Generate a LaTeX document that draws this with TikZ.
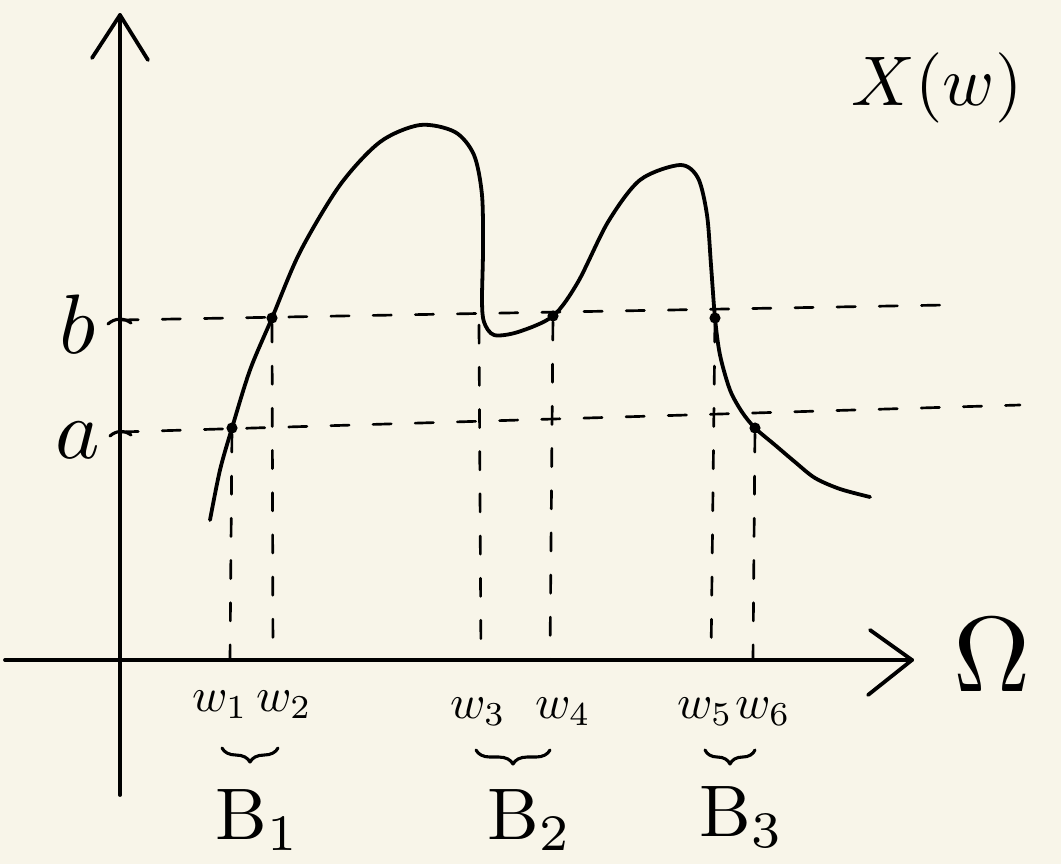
\documentclass[tikz,border=0pt]{standalone}
\usetikzlibrary{decorations.pathreplacing}
\definecolor{paper}{RGB}{248,245,233}
\tikzset{
  ink/.style={line width=2.7pt, line cap=round, line join=round},
  guide/.style={line width=1.9pt, line cap=round, dash pattern=on 13pt off 17pt},
  wlbl/.style={scale=3.4},
  ablbl/.style={scale=6},
  blbl/.style={scale=5.2},
  bigl/.style={scale=5},
  omlbl/.style={scale=7.6},
  bracebelow/.style={ink, line width=2.2pt, decorate, decoration={brace, mirror, amplitude=10pt}},
}
\begin{document}
\begin{tikzpicture}[x=0.025cm, y=-0.025cm]
        \fill[paper] (0,0) rectangle (1061,864);
        \useasboundingbox (0,0) rectangle (1061,864);
        % axes
        \coordinate (ytop) at (120,15);
        \coordinate (ybot) at (120,795);
        \coordinate (xleft) at (5,660);
        \coordinate (xright) at (912,660);
        \draw[ink] (ybot) -- (ytop);
        \draw[ink] (92,58) -- (ytop) -- (148,60);
        \draw[ink] (xleft) -- (xright);
        \draw[ink] (870,630) -- (xright) -- (868,695);
        \node (omega) [omlbl] at (992,655) {$\Omega$};
        \node (xw) [bigl] at (937,88) {$X(w)$};
        % levels a and b
        \coordinate (tb) at (120,320);
        \coordinate (ta) at (120,432);
        \coordinate (eb) at (945,305);
        \coordinate (ea) at (1020,405);
        \draw[ink, line width=2.2pt] (108,324) to[bend left=40] (131,323);
        \draw[ink, line width=2.2pt] (110,436) to[bend left=40] (131,435);
        \node (lb) [ablbl] at (78,324) {$b$};
        \node (la) [ablbl] at (78,440) {$a$};
        % the curve
        \draw[ink] plot[smooth, tension=0.5] coordinates {
            (210,520) (220,470) (232,428) (250,370) (272,318) (300,252)
            (340,185) (380,142) (420,125) (455,132) (474,155) (482,195)
            (483,250) (482,300) (484,322) (494,335) (518,332) (553,316)
            (578,282) (608,222) (640,180) (680,165) (698,178) (707,215)
            (711,265) (715,318) (720,355) (730,390) (742,412) (755,428)
            (775,445) (795,462) (815,478) (840,489) (870,497)};
        % feet on the axis
        \coordinate (f1) at (230,660);
        \coordinate (f2) at (273,660);
        \coordinate (f3) at (481,660);
        \coordinate (f4) at (550,660);
        \coordinate (f5) at (711,660);
        \coordinate (f6) at (753,660);
        \coordinate (p3) at (479,325);
        \begin{scope}[every node/.style={circle,fill=black,inner sep=2.8pt}]
            \node (p1) at (232,428) {};
            \node (p2) at (272,318) {};
            \node (p4) at (553,316) {};
            \node (p5) at (715,318) {};
            \node (p6) at (755,428) {};
        \end{scope}
        \begin{scope}[every edge/.style={draw,guide}]
            \path
                (tb) edge (eb)
                (ta) edge (ea)
                (p1) edge (f1)
                (p2) edge (f2)
                (p3) edge (f3)
                (p4) edge (f4)
                (p5) edge (f5)
                (p6) edge (f6);
        \end{scope}
        % labels under the axis
        \node (w1) [wlbl] at (220,705) {$w_1$};
        \node (w2) [wlbl] at (284,705) {$w_2$};
        \node (w3) [wlbl] at (478,712) {$w_3$};
        \node (w4) [wlbl] at (563,712) {$w_4$};
        \node (w5) [wlbl] at (705,712) {$w_5$};
        \node (w6) [wlbl] at (763,712) {$w_6$};
        \draw[bracebelow] (222,748) -- (278,748);
        \draw[bracebelow] (476,750) -- (550,750);
        \draw[bracebelow] (705,750) -- (755,750);
        \node (B1) [blbl] at (258,820) {$\mathrm{B}_1$};
        \node (B2) [blbl] at (530,820) {$\mathrm{B}_2$};
        \node (B3) [blbl] at (742,817) {$\mathrm{B}_3$};
\end{tikzpicture}
\end{document}
